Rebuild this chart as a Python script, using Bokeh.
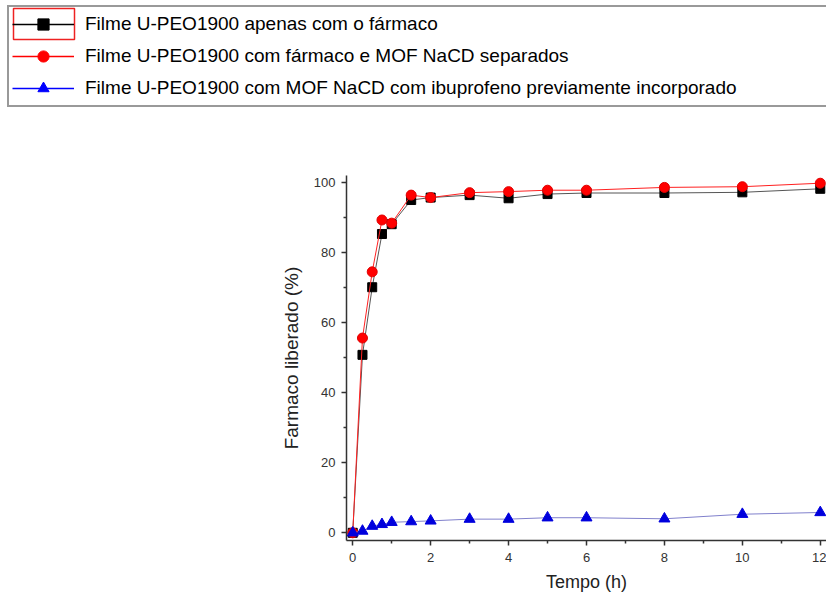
from bokeh.plotting import figure
from bokeh.models import Legend, LegendItem, FixedTicker, Range1d, BoxAnnotation
from bokeh.embed import file_html
from bokeh.resources import INLINE

# ---- data ----
tempo = [0, 0.25, 0.5, 0.75, 1, 1.5, 2, 3, 4, 5, 6, 8, 10, 12]
apenas_farmaco = [0, 50.8, 70.1, 85.3, 88.1, 95.0, 95.7, 96.4, 95.5, 96.7, 97.0, 97.0, 97.2, 98.2]
farmaco_mof_separados = [0, 55.6, 74.5, 89.3, 88.4, 96.4, 95.7, 97.1, 97.4, 97.8, 97.8, 98.6, 98.8, 99.8]
mof_ibuprofeno = [0, 0.5, 1.9, 2.4, 3.0, 3.2, 3.4, 3.9, 3.9, 4.3, 4.3, 4.0, 5.3, 5.8]

labels = [
    "Filme U-PEO1900 apenas com o fármaco",
    "Filme U-PEO1900 com fármaco e MOF NaCD separados",
    "Filme U-PEO1900 com MOF NaCD com ibuprofeno previamente incorporado",
]
x_ticks = [0, 2, 4, 6, 8, 10, 12]
x_minor = [1, 3, 5, 7, 9, 11]
y_ticks = [0, 20, 40, 60, 80, 100]
y_minor = [10, 30, 50, 70, 90]

FONT = "Liberation Sans"

# ---------------- legend strip (top) ----------------
top = figure(width=826, height=110, output_backend="svg", toolbar_location=None,
             x_axis_location=None, y_axis_location=None,
             x_range=Range1d(1000, 1001), y_range=Range1d(1000, 1001),
             min_border=0)
top.outline_line_color = None
top.grid.visible = False
top.background_fill_color = "white"
top.border_fill_color = "white"

# selection frame around the first legend entry (drawn first, legend is transparent)
sel = BoxAnnotation(left=13, right=74, top=8, bottom=39,
                    left_units="canvas", right_units="canvas",
                    top_units="canvas", bottom_units="canvas",
                    fill_color="white", fill_alpha=0.0,
                    line_color="#ee2222", line_width=1.5, line_alpha=1.0)
top.add_layout(sel)

# same series drawn outside the visible range, only as legend proxies
l1 = top.line(tempo, apenas_farmaco, line_color="black", line_width=1.5)
m1 = top.scatter(tempo, apenas_farmaco, marker="square", fill_color="black", line_color="black")
l2 = top.line(tempo, farmaco_mof_separados, line_color="#ff0000", line_width=1.5)
m2 = top.scatter(tempo, farmaco_mof_separados, marker="circle", fill_color="#ff0000", line_color="#ff0000")
l3 = top.line(tempo, mof_ibuprofeno, line_color="#0000ff", line_width=1.5)
m3 = top.scatter(tempo, mof_ibuprofeno, marker="triangle", fill_color="#0000ff", line_color="#0000ff")

legend = Legend(items=[
    LegendItem(label=labels[0], renderers=[l1, m1]),
    LegendItem(label=labels[1], renderers=[l2, m2]),
    LegendItem(label=labels[2], renderers=[l3, m3]),
], location=(7, 3), orientation="vertical",
    padding=3, spacing=4, margin=0,
    glyph_width=62, glyph_height=28, label_height=28,
    label_standoff=11, label_width=760,
    label_text_font=FONT, label_text_font_size="19px", label_text_color="black",
    border_line_color="#333333", border_line_width=2,
    background_fill_alpha=0.0)
top.add_layout(legend, "center")

# ---------------- chart ----------------
p = figure(width=826, height=485, output_backend="svg", toolbar_location=None,
           x_range=Range1d(-0.16, 12.16), y_range=Range1d(-2.2, 102),
           min_border_left=346, min_border_right=0, min_border_top=65,
           min_border_bottom=55)
p.outline_line_color = None
p.grid.visible = False
p.background_fill_color = "white"
p.border_fill_color = "white"

for ax in (p.xaxis[0], p.yaxis[0]):
    ax.axis_line_color = "#333333"
    ax.axis_line_width = 1.5
    ax.major_tick_line_color = "#333333"
    ax.major_tick_line_width = 1.5
    ax.minor_tick_line_color = "#333333"
    ax.minor_tick_line_width = 1.5
    ax.major_tick_in = 0
    ax.major_tick_out = 5
    ax.minor_tick_in = 0
    ax.minor_tick_out = 3
    ax.major_label_text_font = FONT
    ax.major_label_text_font_size = "13px"
    ax.major_label_text_color = "#333333"
    ax.axis_label_text_font = FONT
    ax.axis_label_text_font_style = "normal"
    ax.axis_label_text_color = "#222222"

p.xaxis.axis_label_text_font_size = "18px"
p.yaxis.axis_label_text_font_size = "19px"
p.xaxis.ticker = FixedTicker(ticks=x_ticks, minor_ticks=x_minor)
p.yaxis.ticker = FixedTicker(ticks=y_ticks, minor_ticks=y_minor)
p.xaxis.axis_label = "Tempo (h)"
p.yaxis.axis_label = "Farmaco liberado (%)"
p.xaxis.major_label_standoff = 7
p.yaxis.major_label_standoff = 6
p.xaxis.axis_label_standoff = 7
p.yaxis.axis_label_standoff = 9

p.line(tempo, apenas_farmaco, line_color="#555555", line_width=1)
p.scatter(tempo, apenas_farmaco, marker="square", size=9,
          fill_color="black", line_color="black")
p.line(tempo, farmaco_mof_separados, line_color="#ff2020", line_width=1)
p.scatter(tempo, farmaco_mof_separados, marker="circle", size=10,
          fill_color="#ff0000", line_color="#e00000")
p.line(tempo, mof_ibuprofeno, line_color="#8080cc", line_width=1)
p.scatter(tempo, mof_ibuprofeno, marker="triangle", size=11,
          fill_color="#0000dd", line_color="#0000dd")

open("out.html", "w").write(file_html([top, p], INLINE))
